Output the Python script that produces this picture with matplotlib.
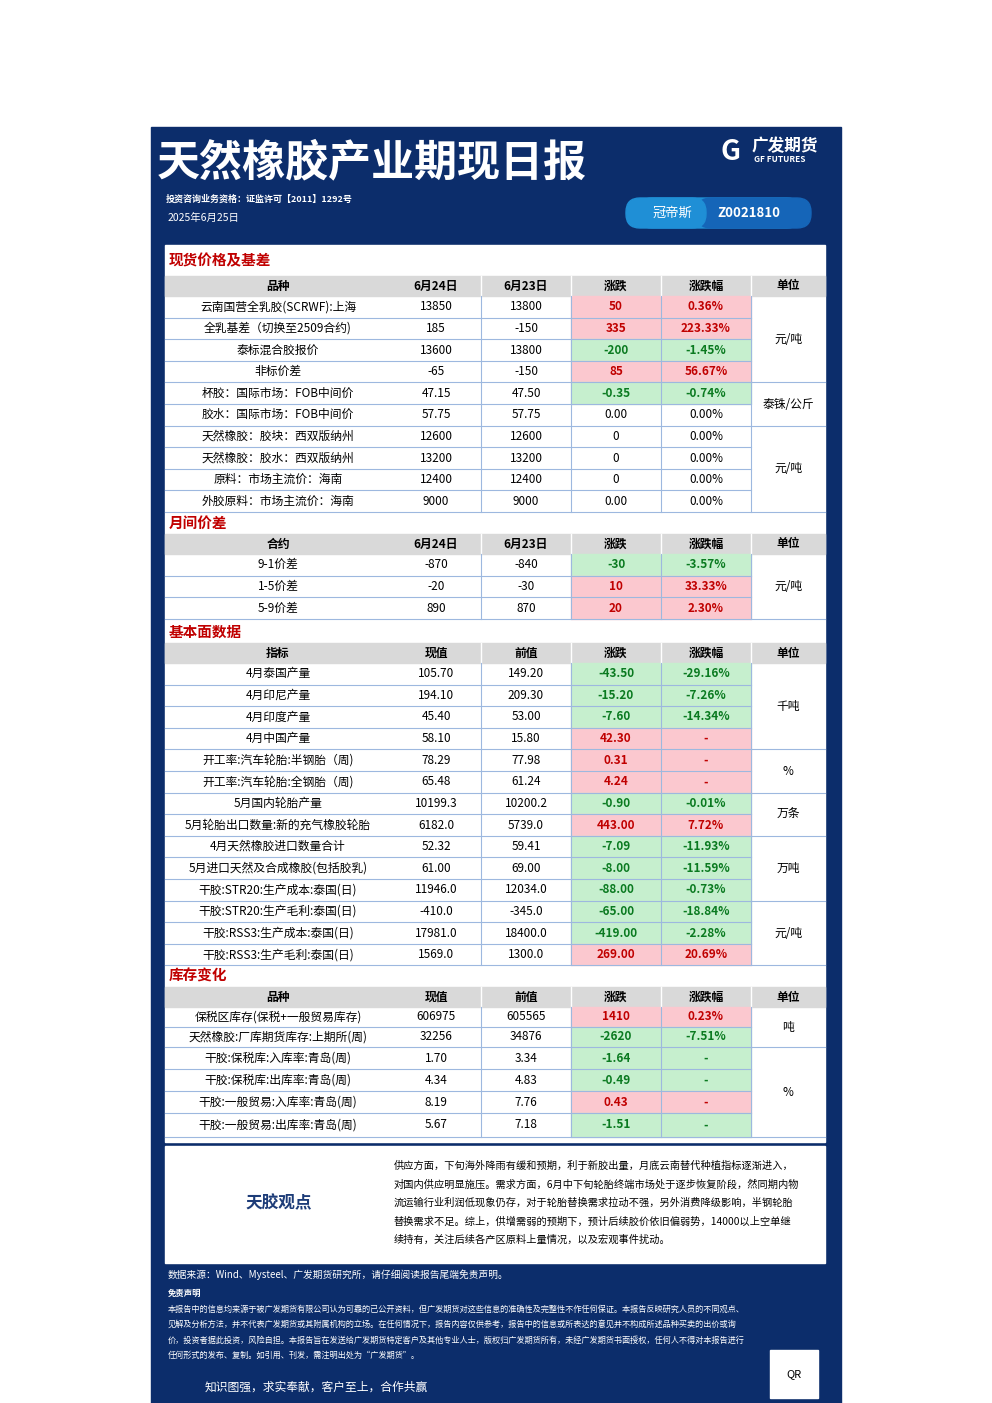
import matplotlib
matplotlib.use("Agg")
import matplotlib.pyplot as plt
from matplotlib.patches import Rectangle, FancyBboxPatch

plt.rcParams['font.family'] = ['Noto Sans CJK SC', 'DejaVu Sans']

# ---------------- data ----------------
spot_names = ["云南国营全乳胶(SCRWF):上海", "全乳基差（切换至2509合约)", "泰标混合胶报价", "非标价差",
              "杯胶：国际市场：FOB中间价", "胶水：国际市场：FOB中间价", "天然橡胶：胶块：西双版纳州",
              "天然橡胶：胶水：西双版纳州", "原料：市场主流价：海南", "外胶原料：市场主流价：海南"]
spot_cur = ["13850", "185", "13600", "-65", "47.15", "57.75", "12600", "13200", "12400", "9000"]
spot_prev = ["13800", "-150", "13800", "-150", "47.50", "57.75", "12600", "13200", "12400", "9000"]
spot_chg = ["50", "335", "-200", "85", "-0.35", "0.00", "0", "0", "0", "0.00"]
spot_pct = ["0.36%", "223.33%", "-1.45%", "56.67%", "-0.74%", "0.00%", "0.00%", "0.00%", "0.00%", "0.00%"]
spot_units = [("元/吨", 0, 3), ("泰铢/公斤", 4, 5), ("元/吨", 6, 9)]

spread_names = ["9-1价差", "1-5价差", "5-9价差"]
spread_cur = ["-870", "-20", "890"]
spread_prev = ["-840", "-30", "870"]
spread_chg = ["-30", "10", "20"]
spread_pct = ["-3.57%", "33.33%", "2.30%"]
spread_units = [("元/吨", 0, 2)]

fund_names = ["4月泰国产量", "4月印尼产量", "4月印度产量", "4月中国产量", "开工率:汽车轮胎:半钢胎（周)",
              "开工率:汽车轮胎:全钢胎（周)", "5月国内轮胎产量", "5月轮胎出口数量:新的充气橡胶轮胎",
              "4月天然橡胶进口数量合计", "5月进口天然及合成橡胶(包括胶乳)", "干胶:STR20:生产成本:泰国(日)",
              "干胶:STR20:生产毛利:泰国(日)", "干胶:RSS3:生产成本:泰国(日)", "干胶:RSS3:生产毛利:泰国(日)"]
fund_cur = ["105.70", "194.10", "45.40", "58.10", "78.29", "65.48", "10199.3", "6182.0", "52.32", "61.00",
            "11946.0", "-410.0", "17981.0", "1569.0"]
fund_prev = ["149.20", "209.30", "53.00", "15.80", "77.98", "61.24", "10200.2", "5739.0", "59.41", "69.00",
             "12034.0", "-345.0", "18400.0", "1300.0"]
fund_chg = ["-43.50", "-15.20", "-7.60", "42.30", "0.31", "4.24", "-0.90", "443.00", "-7.09", "-8.00",
            "-88.00", "-65.00", "-419.00", "269.00"]
fund_pct = ["-29.16%", "-7.26%", "-14.34%", "-", "-", "-", "-0.01%", "7.72%", "-11.93%", "-11.59%",
            "-0.73%", "-18.84%", "-2.28%", "20.69%"]
fund_units = [("千吨", 0, 3), ("%", 4, 5), ("万条", 6, 7), ("万吨", 8, 10), ("元/吨", 11, 13)]

inv_names = ["保税区库存(保税+一般贸易库存)", "天然橡胶:厂库期货库存:上期所(周)", "干胶:保税库:入库率:青岛(周)",
             "干胶:保税库:出库率:青岛(周)", "干胶:一般贸易:入库率:青岛(周)", "干胶:一般贸易:出库率:青岛(周)"]
inv_cur = ["606975", "32256", "1.70", "4.34", "8.19", "5.67"]
inv_prev = ["605565", "34876", "3.34", "4.83", "7.76", "7.18"]
inv_chg = ["1410", "-2620", "-1.64", "-0.49", "0.43", "-1.51"]
inv_pct = ["0.23%", "-7.51%", "-", "-", "-", "-"]
inv_units = [("吨", 0, 1), ("%", 2, 5)]

view_lines = ["供应方面，下旬海外降雨有缓和预期，利于新胶出量，月底云南替代种植指标逐渐进入，",
              "对国内供应明显施压。需求方面，6月中下旬轮胎终端市场处于逐步恢复阶段，然同期内物",
              "流运输行业利润低现象仍存，对于轮胎替换需求拉动不强，另外消费降级影响，半钢轮胎",
              "替换需求不足。综上，供增需弱的预期下，预计后续胶价依旧偏弱势，14000以上空单继",
              "续持有，关注后续各产区原料上量情况，以及宏观事件扰动。"]

NAVY = "#0c2d6b"
RED_BG, RED_TX = "#fbc8cf", "#c00000"
GRN_BG, GRN_TX = "#c6efce", "#0a7a20"
GRID = "#9db8df"

fig = plt.figure(figsize=(9.92, 14.03), dpi=100)
ax = fig.add_axes([0, 0, 1, 1])
ax.set_xlim(0, 992); ax.set_ylim(1403, 0); ax.axis("off")

ax.add_patch(Rectangle((151, 127), 690, 1276, color=NAVY, zorder=0))
ax.text(157, 162, "天然橡胶产业期现日报", color="white", fontsize=31, fontweight="bold", va="center")
ax.text(166, 199, "投资咨询业务资格：证监许可【2011】1292号", color="white", fontsize=6.5, fontweight="bold", va="center")
ax.text(168, 218, "2025年6月25日", color="white", fontsize=7.5, va="center")
ax.text(752, 146, "广发期货", color="white", fontsize=12, fontweight="bold", va="center")
ax.text(754, 160, "GF FUTURES", color="white", fontsize=6, fontweight="bold", va="center")
ax.text(731, 152, "G", color="white", fontsize=20, fontweight="bold", va="center", ha="center", style="italic")
ax.add_patch(FancyBboxPatch((638, 198), 163, 30, boxstyle="round,pad=0,rounding_size=14", color="#1f8fd6", zorder=1))
ax.add_patch(FancyBboxPatch((697, 198), 114, 30, boxstyle="round,pad=0,rounding_size=14", color="#1565b8", zorder=1))
ax.add_patch(FancyBboxPatch((626, 198), 80, 30, boxstyle="round,pad=0,rounding_size=14", color="#1f8fd6", zorder=2))
ax.text(672, 213, "冠帝斯", color="white", fontsize=9.5, va="center", ha="center", zorder=3)
ax.text(749, 213, "Z0021810", color="white", fontsize=9.5, fontweight="bold", va="center", ha="center", zorder=3)

ax.add_patch(Rectangle((165, 245), 660, 897, color="white", zorder=1))

XL, XR = 165, 825
cols = [165, 391, 481, 571, 661, 751, 825]

def num_color(s):
    try:
        return float(s.replace("%", ""))
    except ValueError:
        return None

def section(title, ty, hy, row_h, heads, names, cur, prev, chg, pct, units, row_heights=None):
    ax.text(169, ty, title, color=RED_TX, fontsize=10.5, fontweight="bold", va="center", zorder=3)
    ax.add_patch(Rectangle((XL, hy), XR - XL, 20, color="#d9d9d9", zorder=2))
    for i, h in enumerate(heads):
        ax.text((cols[i] + cols[i + 1]) / 2, hy + 10, h, fontsize=8.5, fontweight="bold", ha="center", va="center", zorder=3)
    for c in cols[2:-1]:
        ax.plot([c, c], [hy, hy + 20], color="white", lw=1, zorder=3)
    n = len(names)
    hs = row_heights if row_heights else [row_h] * n
    ys = [hy + 20]
    for h in hs:
        ys.append(ys[-1] + h)
    sign = [num_color(c) for c in chg]
    for r in range(n):
        y0, y1 = ys[r], ys[r + 1]
        yc = (y0 + y1) / 2
        v = sign[r]
        bold = v is not None and v != 0
        bg = RED_BG if (v and v > 0) else GRN_BG if (v and v < 0) else None
        tc = RED_TX if (v and v > 0) else GRN_TX if (v and v < 0) else "black"
        if bg:
            ax.add_patch(Rectangle((cols[3], y0), cols[5] - cols[3], y1 - y0, color=bg, zorder=2))
        ax.text((cols[0] + cols[1]) / 2, yc, names[r], fontsize=8.5, ha="center", va="center", zorder=3)
        ax.text((cols[1] + cols[2]) / 2, yc, cur[r], fontsize=8.5, ha="center", va="center", zorder=3)
        ax.text((cols[2] + cols[3]) / 2, yc, prev[r], fontsize=8.5, ha="center", va="center", zorder=3)
        ax.text((cols[3] + cols[4]) / 2, yc, chg[r], fontsize=8.5, ha="center", va="center", color=tc,
                fontweight="bold" if bold else "normal", zorder=3)
        ax.text((cols[4] + cols[5]) / 2, yc, pct[r], fontsize=8.5, ha="center", va="center", color=tc,
                fontweight="bold" if bold else "normal", zorder=3)
        if r < n - 1:
            ax.plot([XL, cols[5]], [y1, y1], color=GRID, lw=0.8, zorder=3)
    for c in cols[2:-1]:
        ax.plot([c, c], [ys[0], ys[-1]], color=GRID, lw=0.8, zorder=3)
    for (u, a, b) in units:
        ax.text((cols[5] + cols[6]) / 2, (ys[a] + ys[b + 1]) / 2, u, fontsize=8.5, ha="center", va="center", zorder=3)
        if a > 0:
            ax.plot([cols[5], XR], [ys[a], ys[a]], color=GRID, lw=0.8, zorder=3)
    ax.plot([XL, XR], [ys[-1], ys[-1]], color=GRID, lw=0.8, zorder=3)
    return ys[-1]

section("现货价格及基差", 260, 276, 21.6, ["品种", "6月24日", "6月23日", "涨跌", "涨跌幅", "单位"],
        spot_names, spot_cur, spot_prev, spot_chg, spot_pct, spot_units)
section("月间价差", 523, 534, 21.7, ["合约", "6月24日", "6月23日", "涨跌", "涨跌幅", "单位"],
        spread_names, spread_cur, spread_prev, spread_chg, spread_pct, spread_units)
section("基本面数据", 632, 643, 21.6, ["指标", "现值", "前值", "涨跌", "涨跌幅", "单位"],
        fund_names, fund_cur, fund_prev, fund_chg, fund_pct, fund_units)
section("库存变化", 976, 987, 21.6, ["品种", "现值", "前值", "涨跌", "涨跌幅", "单位"],
        inv_names, inv_cur, inv_prev, inv_chg, inv_pct, inv_units,
        row_heights=[20, 20, 22, 22, 22, 24])

ax.add_patch(Rectangle((165, 1146), 660, 117, color="white", zorder=1))
ax.text(279, 1203, "天胶观点", color="#1d3c78", fontsize=12, fontweight="bold", ha="center", va="center", zorder=3)
for i, line in enumerate(view_lines):
    ax.text(394, 1166 + i * 18.5, line, fontsize=7.35, ha="left", va="center", zorder=3)

ax.text(168, 1275, "数据来源：Wind、Mysteel、广发期货研究所，请仔细阅读报告尾端免责声明。", color="white", fontsize=7, va="center")
ax.text(168, 1293, "免责声明", color="white", fontsize=6, fontweight="bold", va="center")
disc = ["本报告中的信息均来源于被广发期货有限公司认为可靠的已公开资料，但广发期货对这些信息的准确性及完整性不作任何保证。本报告反映研究人员的不同观点、",
        "见解及分析方法，并不代表广发期货或其附属机构的立场。在任何情况下，报告内容仅供参考，报告中的信息或所表达的意见并不构成所述品种买卖的出价或询",
        "价，投资者据此投资，风险自担。本报告旨在发送给广发期货特定客户及其他专业人士，版权归广发期货所有，未经广发期货书面授权，任何人不得对本报告进行",
        "任何形式的发布、复制。如引用、刊发，需注明出处为“广发期货”。"]
for i, l in enumerate(disc):
    ax.text(168, 1309 + i * 15.5, l, color="white", fontsize=5.9, va="center")
ax.text(205, 1387, "知识图强，求实奉献，客户至上，合作共赢", color="white", fontsize=8.5, va="center")
ax.add_patch(Rectangle((770, 1350), 48, 48, color="white", zorder=2))
ax.text(794, 1374, "QR", fontsize=8, ha="center", va="center", zorder=3)

fig.savefig("out.png", dpi=100, facecolor="white")
